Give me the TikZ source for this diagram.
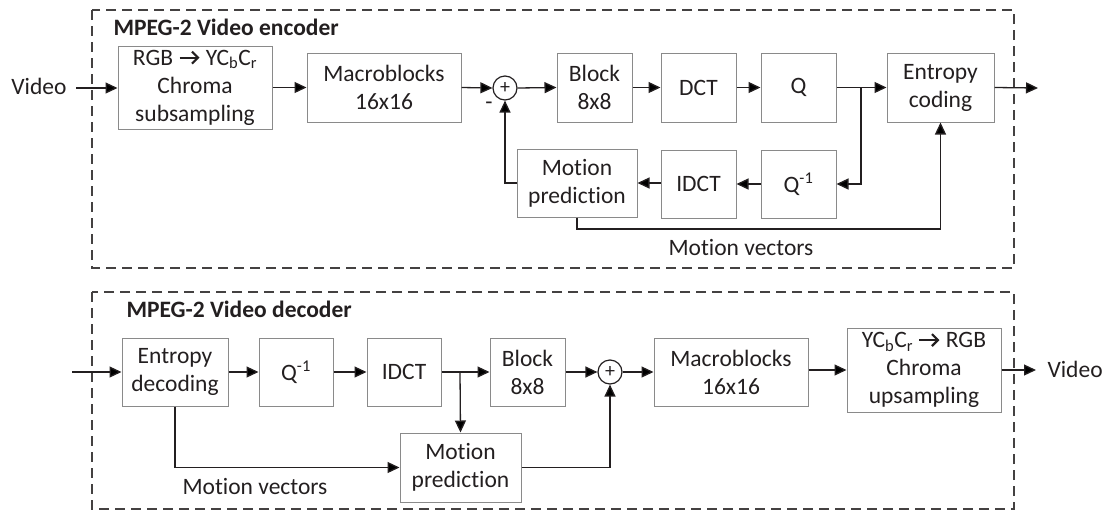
\documentclass[tikz,border=0pt]{standalone}
\usepackage{fontspec}
\setmainfont{Carlito}[Ligatures=CommonOff]
\usetikzlibrary{arrows.meta}
\definecolor{ink}{HTML}{231F20}
\definecolor{boxgray}{HTML}{8A8A8A}
\newcommand{\rarr}{\tikz[baseline=-7.5pt,x=1pt,y=1pt]\draw[ink,line width=2.2pt,-{Straight Barb[length=6pt,width=12pt,line width=2.2pt]}] (0,0) -- (20,0);}
\begin{document}
\begin{tikzpicture}[x=1pt,y=-1pt,
  every node/.style={font=\fontsize{23.5}{28}\selectfont, text=ink},
  blockbox/.style={draw=boxgray, line width=1pt, align=center, inner sep=0pt},
  sumnode/.style={circle, draw=ink, line width=1.2pt, minimum size=24pt, inner sep=0pt, font=\fontsize{20}{20}\selectfont},
  flow/.style={draw=ink, line width=1.3pt, -{Triangle[length=12pt,width=11pt]}},
  wire/.style={draw=ink, line width=1.3pt},
  frame/.style={draw=ink!85, line width=1.3pt, dash pattern=on 10pt off 6pt},
  ttl/.style={font=\fontsize{23.5}{28}\selectfont\bfseries, anchor=west}
]
\useasboundingbox (0,0) rectangle (1104,512);

% ---------------- encoder ----------------
\draw[frame] (92,10) rectangle (1014,268);
\node[ttl] (enctitle) at (110,27) {MPEG-2 Video encoder};

\node (vin) at (39,86) {Video};
\node[blockbox, minimum width=154pt, minimum height=83pt] (rgb) at (195,87.5)
  {RGB \rarr{} YC\textsubscript{b}C\textsubscript{r}\\Chroma\\subsampling};
\node[blockbox, minimum width=154pt, minimum height=69pt] (mb) at (384,87.5) {Macroblocks\\16x16};
\node[sumnode] (s1) at (505,88) {+};
\node (minus) at (489,106) {-};
\node[blockbox, minimum width=75pt, minimum height=69pt] (blk) at (594.5,87.5) {Block\\8x8};
\node[blockbox, minimum width=75pt, minimum height=69pt] (dct) at (698.5,87.5) {DCT};
\node[blockbox, minimum width=75pt, minimum height=69pt] (q) at (798.5,87.5) {Q};
\node[blockbox, minimum width=107pt, minimum height=69pt] (ent) at (940.5,87.5) {Entropy\\coding};
\node[blockbox, minimum width=120pt, minimum height=68pt] (mp) at (577,183) {Motion\\prediction};
\node[blockbox, minimum width=75pt, minimum height=68pt] (idct) at (698.5,184) {IDCT};
\node[blockbox, minimum width=75pt, minimum height=68pt] (qi) at (798.5,184) {Q\textsuperscript{-1}};
\node (mvlab) at (741,247) {Motion vectors};
\coordinate (eout) at (1038,88);
\coordinate (vin-e) at (76,88);

\draw[flow] (vin-e) -- (rgb.west |- vin-e);
\draw[flow] (rgb.east |- mb.west) -- (mb.west);
\draw[flow] (mb.east) -- (s1.west);
\draw[flow] (s1.east) -- (blk.west);
\draw[flow] (blk.east) -- (dct.west);
\draw[flow] (dct.east) -- (q.west);
\coordinate (br1) at (861,87.5);
\draw[flow] (q.east) -- (ent.west);
\draw[flow] (br1) -- (br1 |- qi.east) -- (qi.east);
\draw[flow] (ent.east) -- (eout);
\draw[flow] (qi.west) -- (idct.east);
\draw[flow] (idct.west |- mp.east) -- (mp.east);
\draw[flow] (mp.west) -| (s1.south);
\draw[flow] (mp.south) -- (577,229) -| (ent.south);

% ---------------- decoder ----------------
\draw[frame] (92,292) rectangle (1014,509);
\node[ttl] (dectitle) at (123,309) {MPEG-2 Video decoder};

\node[blockbox, minimum width=106pt, minimum height=68pt] (ed) at (175,372) {Entropy\\decoding};
\node[blockbox, minimum width=74pt, minimum height=68pt] (qi2) at (296,372) {Q\textsuperscript{-1}};
\node[blockbox, minimum width=74pt, minimum height=68pt] (idct2) at (404,372) {IDCT};
\node[blockbox, minimum width=75pt, minimum height=68pt] (blk2) at (527.5,372) {Block\\8x8};
\node[sumnode] (s2) at (610,372) {+};
\node[blockbox, minimum width=154pt, minimum height=68pt] (mb2) at (731,372) {Macroblocks\\16x16};
\node[blockbox, minimum width=154pt, minimum height=84pt] (yc) at (924,370)
  {YC\textsubscript{b}C\textsubscript{r} \rarr{} RGB\\Chroma\\upsampling};
\node[blockbox, minimum width=121pt, minimum height=69pt] (mp2) at (460.5,467.5) {Motion\\prediction};
\node (mvlab2) at (255,486) {Motion vectors};
\node[anchor=west] (vout) at (1044,369) {Video};
\coordinate (din) at (72,372);
\coordinate (dout) at (1036,370);

\draw[flow] (din) -- (ed.west);
\draw[flow] (ed.east) -- (qi2.west);
\draw[flow] (qi2.east) -- (idct2.west);
\draw[flow] (idct2.east) -- (blk2.west);
\coordinate (br2) at (460,372);
\draw[flow] (br2) -- (mp2.north);
\draw[flow] (blk2.east) -- (s2.west);
\draw[flow] (s2.east) -- (mb2.west);
\draw[flow] (mb2.east |- yc.west) -- (yc.west);
\draw[flow] (yc.east) -- (dout);
\draw[flow] (ed.south) |- (mp2.west);
\draw[flow] (mp2.east) -| (s2.south);
\end{tikzpicture}
\end{document}
